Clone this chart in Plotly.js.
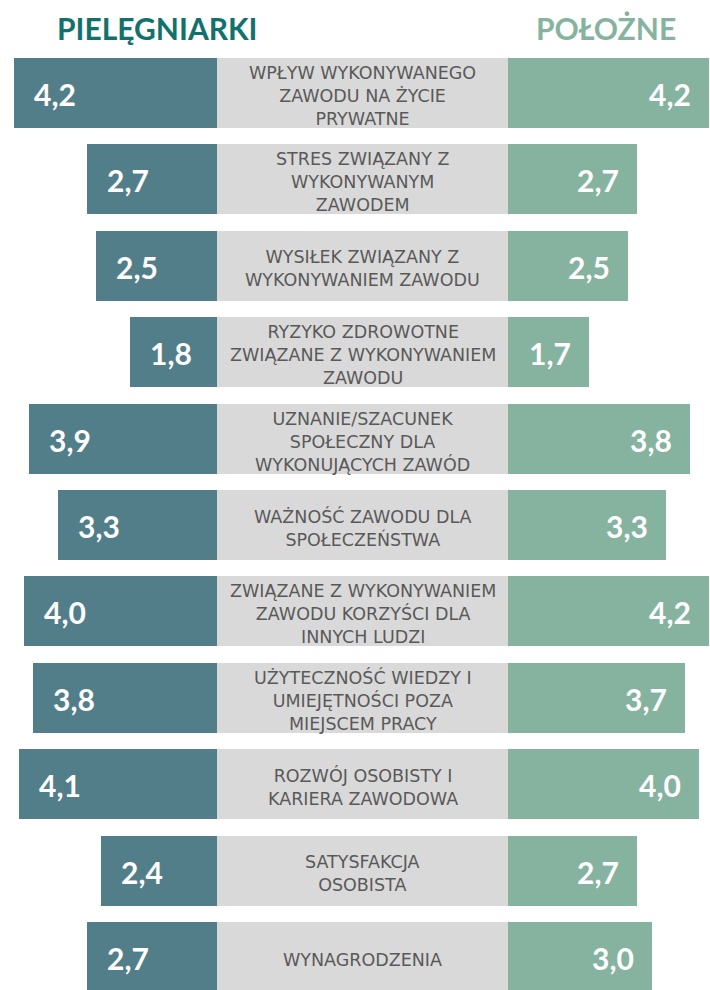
<!DOCTYPE html>
<html><head><meta charset="utf-8">
<script src="https://cdn.plot.ly/plotly-3.0.1.min.js"></script>
<style>html,body{margin:0;padding:0;background:#fff}#chart{width:710px;height:990px}</style>
</head><body><div id="chart"></div>
<script>
var categories = [
  "WPŁYW WYKONYWANEGO<br>ZAWODU NA ŻYCIE<br>PRYWATNE",
  "STRES ZWIĄZANY Z<br>WYKONYWANYM<br>ZAWODEM",
  "WYSIŁEK ZWIĄZANY Z<br>WYKONYWANIEM ZAWODU",
  "RYZYKO ZDROWOTNE<br>ZWIĄZANE Z WYKONYWANIEM<br>ZAWODU",
  "UZNANIE/SZACUNEK<br>SPOŁECZNY DLA<br>WYKONUJĄCYCH ZAWÓD",
  "WAŻNOŚĆ ZAWODU DLA<br>SPOŁECZEŃSTWA",
  "ZWIĄZANE Z WYKONYWANIEM<br>ZAWODU KORZYŚCI DLA<br>INNYCH LUDZI",
  "UŻYTECZNOŚĆ WIEDZY I<br>UMIEJĘTNOŚCI POZA<br>MIEJSCEM PRACY",
  "ROZWÓJ OSOBISTY I<br>KARIERA ZAWODOWA",
  "SATYSFAKCJA<br>OSOBISTA",
  "WYNAGRODZENIA"
];
var nurses   = [4.2, 2.7, 2.5, 1.8, 3.9, 3.3, 4.0, 3.8, 4.1, 2.4, 2.7];
var midwives = [4.2, 2.7, 2.5, 1.7, 3.8, 3.3, 4.2, 3.7, 4.0, 2.7, 3.0];
var seriesNames = ["PIELĘGNIARKI", "POŁOŻNE"];

function fmt(v){ return v.toFixed(1).replace('.', ','); }

var W = 710, scale = 48.3, leftEnd = 217, rightStart = 508;
var barW = 0.81;
var middle = categories.map(function(){ return 1; });

var traces = [
  {type:'bar', orientation:'h', y:categories, x:nurses, xaxis:'x', yaxis:'y',
   marker:{color:'#527E8A'}, width:barW, hoverinfo:'skip', name:seriesNames[0]},
  {type:'bar', orientation:'h', y:categories, x:middle, xaxis:'x3', yaxis:'y',
   marker:{color:'#D9D9D9'}, width:barW, hoverinfo:'skip'},
  {type:'bar', orientation:'h', y:categories, x:midwives, xaxis:'x2', yaxis:'y',
   marker:{color:'#86B3A0'}, width:barW, hoverinfo:'skip', name:seriesNames[1]}
];

var annotations = [];
categories.forEach(function(c, i){
  annotations.push({xref:'x', yref:'y', x:nurses[i], y:c, xanchor:'left', yanchor:'middle',
    xshift:18, yshift:-1, text:fmt(nurses[i]), showarrow:false,
    font:{family:'Lato, sans-serif', size:30, color:'#ffffff', weight:'bold'}});
  annotations.push({xref:'x2', yref:'y', x:midwives[i], y:c, xanchor:'right', yanchor:'middle',
    xshift:-16, yshift:-1, text:fmt(midwives[i]), showarrow:false,
    font:{family:'Lato, sans-serif', size:30, color:'#ffffff', weight:'bold'}});
  annotations.push({xref:'x3', yref:'y', x:0.5, y:c, xanchor:'center', yanchor:'middle',
    yshift:-3, text:c, showarrow:false, align:'center',
    font:{family:'DejaVu Sans, sans-serif', size:17.5, color:'#595959'}});
});
annotations.push({xref:'paper', yref:'paper', x:55/W, y:1-28/990, xanchor:'left', yanchor:'middle',
  text:'<b>'+seriesNames[0]+'</b>', showarrow:false,
  font:{family:'Lato, sans-serif', size:30, color:'#12716C'}});
annotations.push({xref:'paper', yref:'paper', x:678/W, y:1-28/990, xanchor:'right', yanchor:'middle',
  text:'<b>'+seriesNames[1]+'</b>', showarrow:false,
  font:{family:'Lato, sans-serif', size:30, color:'#86B3A0'}});

var pitch = 86.4, c0 = 93;
var layout = {
  width:710, height:990, margin:{l:0,r:0,t:0,b:0},
  paper_bgcolor:'#ffffff', plot_bgcolor:'#ffffff',
  showlegend:false, bargap:0,
  xaxis:{domain:[0, leftEnd/W], range:[leftEnd/scale, 0], visible:false, fixedrange:true},
  xaxis2:{domain:[rightStart/W, 1], range:[0, 4.22], visible:false, fixedrange:true},
  xaxis3:{domain:[leftEnd/W, rightStart/W], range:[0, 1], visible:false, fixedrange:true},
  yaxis:{type:'category', range:[(990-c0)/pitch, -c0/pitch], visible:false, fixedrange:true},
  annotations:annotations
};
Plotly.newPlot('chart', traces, layout, {displayModeBar:false, staticPlot:true});
</script></body></html>
